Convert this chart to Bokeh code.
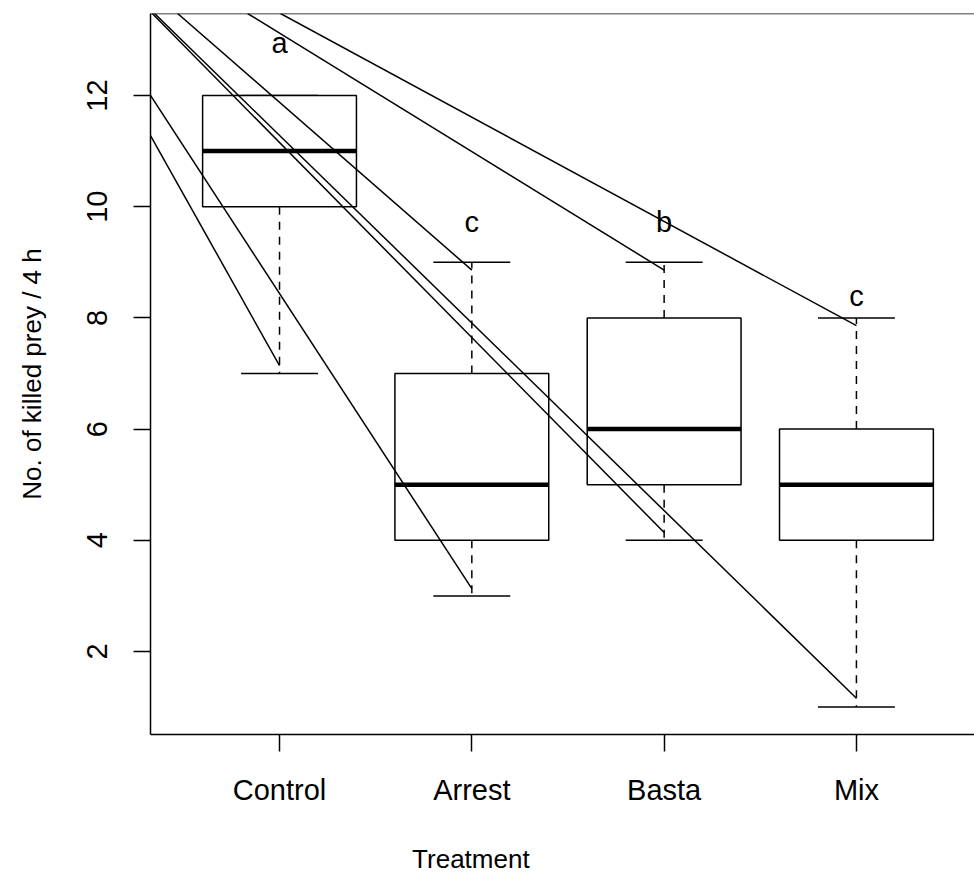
from bokeh.plotting import figure
from bokeh.layouts import column
from bokeh.models import Range1d, FixedTicker, Span, ColumnDataSource
from bokeh.core.properties import value
from bokeh.embed import file_html
from bokeh.resources import INLINE

# ---- data ----
categories = ["Control", "Arrest", "Basta", "Mix"]
q1 = [10, 4, 5, 4]
medians = [11, 5, 6, 5]
q3 = [12, 7, 8, 6]
whisk_lo = [7, 3, 4, 1]
whisk_hi = [12, 9, 9, 8]
letters = ["a", "c", "b", "c"]
letter_y = [12.94, 9.72, 9.72, 8.40]
y_ticks = [2, 4, 6, 8, 10, 12]
x_title = "Treatment"
y_title = "No. of killed prey / 4 h"

# stray line segments (start -> end, data units)
seg_x0 = [0.329, 0.329, 0.338, 0.350, 0.470, 0.834, 1.005]
seg_y0 = [11.28, 12.00, 13.475, 13.475, 13.475, 13.475, 13.475]
seg_x1 = [1, 2, 3, 4, 2, 3, 4]
seg_y1 = [7.14, 3.13, 4.14, 1.16, 8.86, 8.86, 7.86]

x_lo, x_hi = 0.329, 4.614
y_lo, y_hi = 0.507, 13.475
x_title_pos = 1.995

FONT = "Liberation Sans"
pos = [i + 1 for i in range(len(categories))]
box_w = 0.4
cap_w = 0.2

W = 974
H_MAIN = 820
H_TITLE = 880 - H_MAIN

xr = Range1d(x_lo, x_hi)
p = figure(width=W, height=H_MAIN, output_backend="svg", toolbar_location=None,
           x_range=xr, y_range=Range1d(y_lo, y_hi),
           min_border_left=150, min_border_right=0, min_border_top=13,
           min_border_bottom=H_MAIN - 734)
p.outline_line_color = None
p.grid.visible = False
p.background_fill_color = "white"
p.border_fill_color = "white"

src = ColumnDataSource(dict(
    x=pos, left=[x - box_w for x in pos], right=[x + box_w for x in pos],
    q1=q1, q3=q3, med=medians, lo=whisk_lo, hi=whisk_hi,
    cl=[x - cap_w for x in pos], cr=[x + cap_w for x in pos],
))
# whiskers (dashed)
p.segment(x0="x", y0="q3", x1="x", y1="hi", source=src, line_color="black",
          line_width=1.5, line_dash="8 7")
p.segment(x0="x", y0="q1", x1="x", y1="lo", source=src, line_color="black",
          line_width=1.5, line_dash="8 7")
# caps
p.segment(x0="cl", y0="hi", x1="cr", y1="hi", source=src, line_color="black", line_width=1.5)
p.segment(x0="cl", y0="lo", x1="cr", y1="lo", source=src, line_color="black", line_width=1.5)
# boxes
p.quad(left="left", right="right", bottom="q1", top="q3", source=src,
       fill_color="white", line_color="black", line_width=1.5)
# medians
p.segment(x0="left", y0="med", x1="right", y1="med", source=src,
          line_color="black", line_width=4.5)

# stray lines
p.segment(x0=seg_x0, y0=seg_y0, x1=seg_x1, y1=seg_y1, line_color="black", line_width=1.5)

# letters
p.text(x=pos, y=letter_y, text=letters, text_font=value(FONT), text_font_size="29px",
       text_align="center", text_baseline="middle", text_color="black")

# top frame line
p.add_layout(Span(location=y_hi, dimension="width", line_color="black", line_width=1.5))

# axes
xa = p.xaxis[0]
xa.ticker = FixedTicker(ticks=pos)
xa.major_label_overrides = {x: c for x, c in zip(pos, categories)}
xa.minor_tick_line_color = None
xa.major_tick_in = 0
xa.major_tick_out = 17
xa.axis_line_width = 1.5
xa.major_tick_line_width = 1.5
xa.major_label_text_font = FONT
xa.major_label_text_font_size = "29px"
xa.major_label_text_color = "black"
xa.major_label_standoff = 22

ya = p.yaxis[0]
ya.ticker = FixedTicker(ticks=y_ticks)
ya.minor_tick_line_color = None
ya.major_tick_in = 0
ya.major_tick_out = 17
ya.axis_line_width = 1.5
ya.major_tick_line_width = 1.5
ya.major_label_orientation = "vertical"
ya.major_label_text_font = FONT
ya.major_label_text_font_size = "29px"
ya.major_label_text_color = "black"
ya.major_label_standoff = 26
ya.axis_label = y_title
ya.axis_label_text_font = FONT
ya.axis_label_text_font_size = "26px"
ya.axis_label_text_font_style = "normal"
ya.axis_label_text_color = "black"
ya.axis_label_standoff = 38

# strip holding the x-axis title (shares the x scale of the main plot)
t = figure(width=W, height=H_TITLE, output_backend="svg", toolbar_location=None,
           x_range=xr, y_range=Range1d(0, H_TITLE),
           x_axis_type=None, y_axis_type=None,
           min_border_left=150, min_border_right=0, min_border_top=0, min_border_bottom=0)
t.outline_line_color = None
t.grid.visible = False
t.background_fill_color = "white"
t.border_fill_color = "white"
t.text(x=[x_title_pos], y=[H_TITLE - (858 - H_MAIN)], text=[x_title], text_font=value(FONT),
       text_font_size="26px", text_align="center", text_baseline="middle",
       text_color="black")

layout = column(p, t, spacing=0)
open("out.html", "w").write(file_html(layout, INLINE))
